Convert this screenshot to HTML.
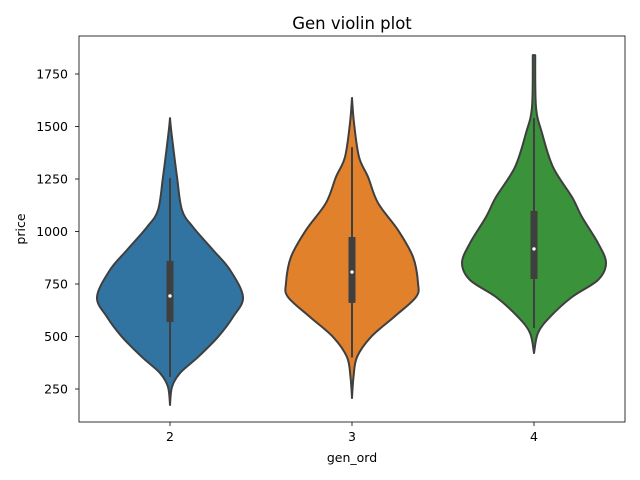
<!DOCTYPE html>
<html><head><meta charset="utf-8"><style>
body{margin:0;background:#fff;}
svg{display:block;font-family:"DejaVu Sans","Liberation Sans",sans-serif;}
</style></head><body>
<svg id="chart" width="640" height="480"></svg>
<script>
const categories = ["2","3","4"];
const colors = ["#3274a1","#e1812c","#3a923a"];
// density profiles: price levels and half-width (relative density)
const prices2 = [174,260,326,402,498,593,688,817,912,1021,1102,1260,1469,1540];
const dens2   = [0,2,10,28,48,63,73,60,43,23,12,7,1.5,0];
const prices3 = [207,307,402,498,593,688,755,879,1007,1136,1260,1355,1517,1636];
const dens3   = [0,1.5,5,19,42,64,66,61,46,26,16,7,2,0];
const prices4 = [421,517,593,688,769,850,945,1069,1164,1307,1469,1593,1840];
const dens4   = [0,4,16,38,64,72,64,48,38,19,8,2,1.2];
const boxQ1 = [569,660,774];
const boxQ3 = [860,974,1098];
const medians = [693,807,917];
const whiskLo = [307,400,540];
const whiskHi = [1255,1402,1540];
const yTicks = [250,500,750,1000,1250,1500,1750];

const NS="http://www.w3.org/2000/svg";
const svg=document.getElementById('chart');
const L=79,R=625,T=36,B=422;
function y(v){return 389-(v-250)*0.21;}
function x(i){return 170+i*182;}
function w(d){return d;}
function mk(tag,attrs,parent){const e=document.createElementNS(NS,tag);for(const k in attrs)e.setAttribute(k,attrs[k]);(parent||svg).appendChild(e);return e;}
function spline(pts){let d="M"+pts[0][0]+","+pts[0][1];for(let i=0;i<pts.length-1;i++){const p0=pts[Math.max(0,i-1)],p1=pts[i],p2=pts[i+1],p3=pts[Math.min(pts.length-1,i+2)];const c1=[p1[0]+(p2[0]-p0[0])/6,p1[1]+(p2[1]-p0[1])/6],c2=[p2[0]-(p3[0]-p1[0])/6,p2[1]-(p3[1]-p1[1])/6];d+=" C"+c1[0]+","+c1[1]+" "+c2[0]+","+c2[1]+" "+p2[0]+","+p2[1];}return d;}

const title=mk('text',{x:352,y:29,'text-anchor':'middle','font-size':16.5,fill:'#000'});
title.textContent="Gen violin plot";



const priceArr=[prices2,prices3,prices4], densArr=[dens2,dens3,dens4];
for(let i=0;i<3;i++){
  const cx=x(i);
  const right=priceArr[i].map((p,j)=>[cx+w(densArr[i][j]),y(p)]);
  const left=priceArr[i].map((p,j)=>[cx-w(densArr[i][j]),y(p)]).reverse();
  const d=spline(right)+" L"+left[0][0]+","+left[0][1]+spline(left).replace(/^M[^ ]+/,"")+" Z";
  const v=mk('path',{d:d,fill:colors[i],stroke:'#3f3f3f','stroke-width':2,'stroke-linejoin':'round'});
  
  
  const wl=mk('line',{x1:cx,x2:cx,y1:y(whiskLo[i]),y2:y(whiskHi[i]),stroke:'#3f3f3f','stroke-width':2});
  
  
  const bx=mk('rect',{x:cx-3.5,width:7,y:y(boxQ3[i]),height:y(boxQ1[i])-y(boxQ3[i]),fill:'#3f3f3f'});
  
  
  const md=mk('circle',{cx:cx,cy:y(medians[i]),r:1.7,fill:'#fff'});
  
  
  const tk=mk('line',{x1:cx,x2:cx,y1:B,y2:B+4,stroke:'#000','stroke-width':0.8});
  
  
  const tl=mk('text',{x:cx,y:B+19,'text-anchor':'middle','font-size':12.5,fill:'#000'});
  tl.textContent=categories[i];
  
  
}
for(const v of yTicks){
  const tk=mk('line',{x1:L-4,x2:L,y1:y(v),y2:y(v),stroke:'#000','stroke-width':0.8});
  
  
  const tl=mk('text',{x:L-11,y:y(v)+4.5,'text-anchor':'end','font-size':12.5,fill:'#000'});
  tl.textContent=v;
  
  
}
const frame=mk('rect',{x:L,y:T,width:R-L,height:B-T,fill:'none',stroke:'#000','stroke-width':0.8});


const xt=mk('text',{x:352,y:462,'text-anchor':'middle','font-size':12.5,fill:'#000'});
xt.textContent="gen_ord";


const yt=mk('text',{x:0,y:0,'text-anchor':'middle','font-size':12.5,fill:'#000',transform:'translate(25,229) rotate(-90)'});
yt.textContent="price";


</script>
</body></html>
